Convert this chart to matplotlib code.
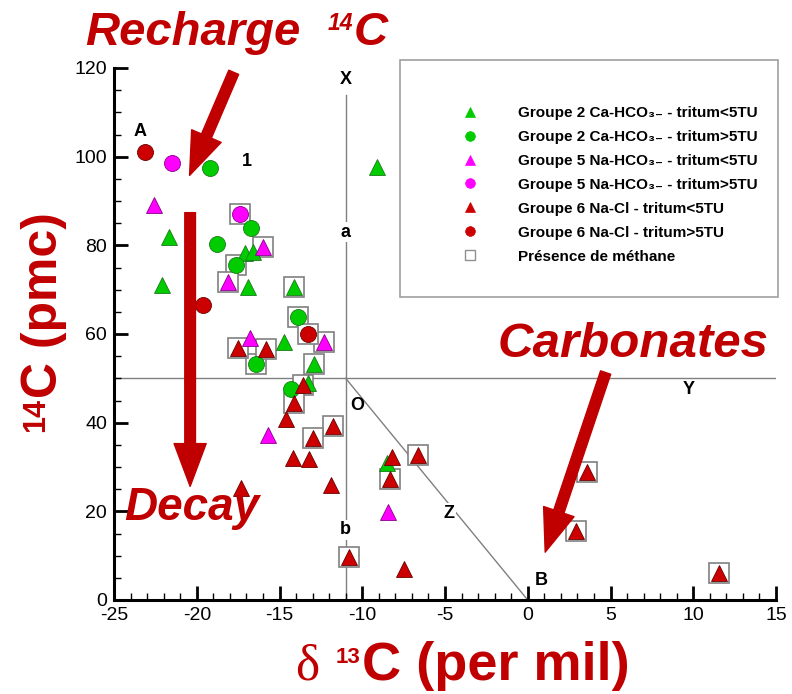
import matplotlib
matplotlib.use("Agg")
import matplotlib.pyplot as plt
from matplotlib.lines import Line2D
from matplotlib.patches import Rectangle

plt.rcParams['font.family'] = ['Liberation Sans', 'DejaVu Sans']
plt.rcParams['axes.unicode_minus'] = False

# ---- data (delta13C, 14C pmc, methane present) ----
g2_tri_x = [-21.7, -22.1, -17.1, -16.6, -16.9, -14.1, -9.1, -14.75, -12.9, -13.3, -8.5]
g2_tri_y = [81.9, 71.1, 78.3, 78.5, 70.6, 70.6, 97.7, 58.2, 53.2, 49.0, 31.0]
g2_tri_m = [0, 0, 0, 0, 0, 1, 0, 0, 1, 0, 0]

g2_cir_x = [-19.2, -16.7, -18.75, -17.6, -13.9, -16.45, -14.3]
g2_cir_y = [97.4, 83.9, 80.3, 75.6, 63.8, 53.2, 47.6]
g2_cir_m = [0, 0, 0, 1, 1, 1, 0]

g5_tri_x = [-22.6, -18.1, -16.0, -16.8, -12.3, -15.7, -8.45]
g5_tri_y = [89.1, 71.7, 79.6, 59.1, 58.2, 37.2, 19.9]
g5_tri_m = [0, 1, 1, 0, 1, 0, 0]

g5_cir_x = [-21.5, -17.4]
g5_cir_y = [98.6, 87.1]
g5_cir_m = [0, 1]

g6_tri_x = [-17.5, -15.8, -13.55, -14.15, -14.6, -11.75, -13.0, -14.2, -13.2,
            -17.3, -11.9, -8.2, -6.65, -8.3, -10.8, -7.5, 3.6, 2.9, 11.55]
g6_tri_y = [56.8, 56.6, 48.5, 44.4, 40.8, 39.3, 36.6, 32.0, 31.8,
            25.3, 25.9, 32.3, 32.7, 27.2, 9.8, 7.1, 28.9, 15.6, 6.1]
g6_tri_m = [1, 1, 1, 1, 0, 1, 1, 0, 0,
            0, 0, 0, 1, 1, 1, 0, 1, 1, 1]

g6_cir_x = [-23.1, -19.6, -13.3]
g6_cir_y = [101.1, 66.5, 60.0]
g6_cir_m = [0, 0, 1]

legend_labels = [
    "Groupe 2 Ca-HCO\u2083\u208b - tritum<5TU",
    "Groupe 2 Ca-HCO\u2083\u208b - tritum>5TU",
    "Groupe 5 Na-HCO\u2083\u208b - tritum<5TU",
    "Groupe 5 Na-HCO\u2083\u208b - tritum>5TU",
    "Groupe 6 Na-Cl - tritum<5TU",
    "Groupe 6 Na-Cl - tritum>5TU",
    "Présence de méthane",
]

GREEN = '#00cc00'
MAG = '#ff00ff'
RED = '#cc0000'
TXTRED = '#c00000'

series = [
    (g2_tri_x, g2_tri_y, g2_tri_m, '^', GREEN, '#1a7a1a'),
    (g2_cir_x, g2_cir_y, g2_cir_m, 'o', GREEN, '#1a7a1a'),
    (g5_tri_x, g5_tri_y, g5_tri_m, '^', MAG, '#8a008a'),
    (g5_cir_x, g5_cir_y, g5_cir_m, 'o', MAG, '#8a008a'),
    (g6_tri_x, g6_tri_y, g6_tri_m, '^', RED, '#6a0000'),
    (g6_cir_x, g6_cir_y, g6_cir_m, 'o', RED, '#6a0000'),
]

fig = plt.figure(figsize=(7.92, 6.94), dpi=100)
ax = fig.add_axes([114/792, 1-600/694, 662/792, 532/694])
ax.set_xlim(-25, 15)
ax.set_ylim(0, 120)

# reference lines
ax.plot([-25, 15], [50, 50], color='#808080', lw=1, zorder=1)
ax.plot([-11, -11], [0, 114], color='#808080', lw=1, zorder=1)
ax.plot([-11, 0], [50, 0], color='#808080', lw=1, zorder=1)

# methane boxes
for xs, ys, ms, mk, fc, ec in series:
    bx = [x for x, m in zip(xs, ms) if m]
    by = [y for y, m in zip(ys, ms) if m]
    ax.plot(bx, by, ls='none', marker='s', ms=14.5, mfc='white', mec='#808080', mew=1.2, zorder=2)

for xs, ys, ms, mk, fc, ec in series:
    ax.plot(xs, ys, ls='none', marker=mk, ms=11.5 if mk == 'o' else 11,
            mfc=fc, mec=ec, mew=0.6, zorder=3)

# spines & ticks
for s in ['top', 'right']:
    ax.spines[s].set_visible(False)
for s in ['left', 'bottom']:
    ax.spines[s].set_linewidth(2.2)
ax.set_xticks(range(-25, 16, 5))
ax.set_xticks(range(-25, 16, 1), minor=True)
ax.set_yticks(range(0, 121, 20))
ax.set_yticks(range(0, 121, 5), minor=True)
ax.tick_params(which='major', direction='in', length=10, width=2, labelsize=14, pad=5)
ax.tick_params(which='minor', direction='in', length=5, width=1)

# letters
lbl = dict(fontsize=13, fontweight='bold', color='black', ha='center', va='center')
wb = dict(fc='white', ec='none', pad=1)
ax.text(-23.4, 105.6, 'A', **lbl)
ax.text(-17.0, 98.8, '1', **lbl)
ax.text(-11.0, 117.3, 'X', bbox=wb, **lbl)
ax.text(-11.0, 83.0, 'a', bbox=wb, **lbl)
ax.text(-11.0, 15.8, 'b', bbox=wb, **lbl)
ax.text(-10.3, 43.8, 'O', **lbl)
ax.text(9.7, 47.4, 'Y', bbox=wb, **lbl)
ax.text(-4.75, 19.6, 'Z', bbox=wb, **lbl)
ax.text(0.8, 4.5, 'B', **lbl)

# big annotations
big = dict(fontweight='bold', style='italic', color=TXTRED)
t1 = fig.text(85/792, 1-45/694, "Recharge", ha='left', va='baseline', fontsize=34, **big)
t2 = ax.annotate("14", xy=(1, 0.97), xycoords=t1, xytext=(20, 0), textcoords='offset points',
                 ha='left', va='top', fontsize=16.5, **big)
ax.annotate("C", xy=(1, 0), xycoords=(t2, t1), ha='left', va='bottom', fontsize=34, **big)
fig.text(124/792, 1-520/694, "Decay", ha='left', va='baseline', fontsize=33, **big)
fig.text(498/792, 1-357/694, "Carbonates", ha='left', va='baseline', fontsize=35.5, **big)

arr = dict(arrowstyle='simple,head_length=1.4,head_width=1.05,tail_width=0.35',
           fc=TXTRED, ec=TXTRED, mutation_scale=22)
ax.annotate('', xy=(-20.5, 95.2), xytext=(-17.7, 119.6), arrowprops=arr, annotation_clip=False)
ax.annotate('', xy=(-20.4, 25.0), xytext=(-20.4, 88.0), arrowprops=arr, annotation_clip=False)
ax.annotate('', xy=(1.0, 10.2), xytext=(4.76, 51.9), arrowprops=arr, annotation_clip=False)

# axis labels
lab = dict(fontweight='bold', color=TXTRED)
ym = fig.text(44/792, 1-305/694, "C (pmc)", rotation=90, ha='center', va='center', fontsize=36, **lab)
ax.annotate("14", xy=(0, 0), xycoords=ym, rotation=90, ha='left', va='top', fontsize=22, **lab)

x1 = fig.text(295/792, 1-680/694, "\u03b4", ha='left', va='baseline', fontsize=37,
              color=TXTRED, family=['Liberation Serif', 'DejaVu Serif'])
x2 = ax.annotate("13", xy=(1, 1.0), xycoords=x1, xytext=(12, -2), textcoords='offset points',
                 ha='left', va='top', fontsize=16, **lab)
ax.annotate("C (per mil)", xy=(1, 0), xycoords=(x2, x1), xytext=(1, 0), textcoords='offset points',
            ha='left', va='bottom', fontsize=39, **lab)

# legend
fig.patches.append(Rectangle((400/792, 1-297/694), 378/792, 237/694, transform=fig.transFigure,
                             fc='white', ec='#a0a0a0', lw=1.2, zorder=0))
handles = []
for xs, ys, ms, mk, fc, ec in series:
    handles.append(Line2D([], [], ls='none', marker=mk, ms=7, mfc=fc, mec=fc, mew=0.5))
handles.append(Line2D([], [], ls='none', marker='s', ms=7.5, mfc='white', mec='#909090', mew=1))
leg = fig.legend(handles, legend_labels, loc='upper left', bbox_to_anchor=(461/792, 1-106/694),
                 frameon=False, prop=dict(size=11, weight='bold'), handlelength=1.2,
                 handletextpad=2.5, labelspacing=0.65, borderpad=0, borderaxespad=0)

fig.savefig('out.png', dpi=100)
